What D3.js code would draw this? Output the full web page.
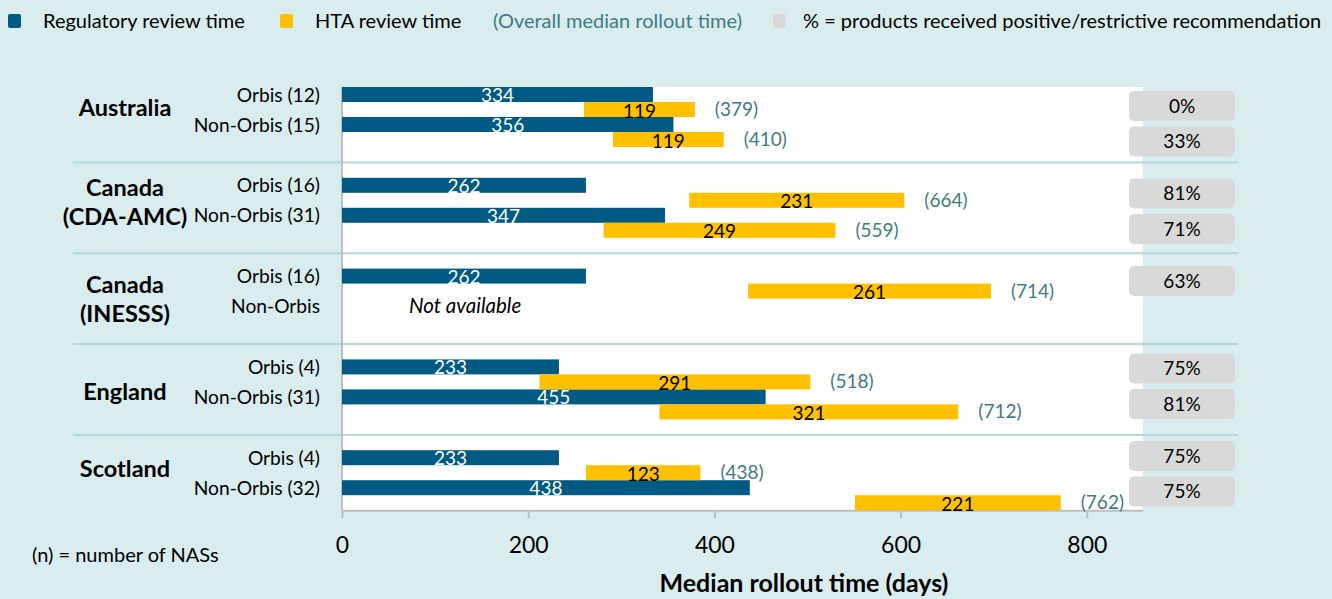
<!DOCTYPE html>
<meta charset="utf-8">

<!-- Load d3.js -->
<script src="https://cdn.jsdelivr.net/npm/d3@7"></script>

<style>
  body { margin: 0; background: #d9ecee; }
  svg text { font-family: Lato, "Open Sans", sans-serif; }
</style>

<!-- Create a div where the graph will take place -->
<div id="my_dataviz"></div>

<script>
// ---- data ----
var countries = ["Australia", "Canada (CDA-AMC)", "Canada (INESSS)", "England", "Scotland"];
var countryLines = [["Australia"], ["Canada", "(CDA-AMC)"], ["Canada", "(INESSS)"], ["England"], ["Scotland"]];
var cohortLabels = [["Orbis (12)", "Non-Orbis (15)"], ["Orbis (16)", "Non-Orbis (31)"], ["Orbis (16)", "Non-Orbis"],
                    ["Orbis (4)", "Non-Orbis (31)"], ["Orbis (4)", "Non-Orbis (32)"]];
// [orbis, non-orbis]; null = not available
var regulatoryDays = [[334, 356], [262, 347], [262, null], [233, 455], [233, 438]];
var htaDays        = [[119, 119], [231, 249], [261, null], [291, 321], [123, 221]];
var htaStartDays   = [[260, 291], [373, 281], [436, null], [212, 341], [262, 551]];
var overallDays    = [[379, 410], [664, 559], [714, null], [518, 712], [438, 762]];
var positivePct    = [[0, 33], [81, 71], [63, null], [75, 81], [75, 75]];
var xTicks = [0, 200, 400, 600, 800];

// small nudges for the country names (hand placed in the original)
var labelShift = [-4, 0, 6, 8, -6];

var width = 1332, height = 599;
var blue = "#015a84", gold = "#ffc000", teal = "#3f7b83", grey = "#d9d9d9", sepColor = "#b5d8dd";

var svg = d3.select("#my_dataviz")
  .append("svg")
    .attr("width", width)
    .attr("height", height);

svg.append("rect").attr("width", width).attr("height", height).attr("fill", "#d9ecee");

// scales
var x = d3.scaleLinear().domain([0, 860]).range([342, 1142.7]);
var yGroup = d3.scaleBand().domain(countries).range([87, 541]);
var yRow = d3.scaleBand().domain(["orbisReg", "orbisHta", "nonReg", "nonHta"]).range([0, 60]);
var yBox = d3.scaleBand().domain(countries).range([91, 528.5]);
var bh = yRow.bandwidth();
var plotBottom = yGroup("Scotland") + 60;

// flatten rows
var rows = [];
countries.forEach(function(c, i) {
  for (var j = 0; j < 2; j++) {
    rows.push({
      country: c, i: i, j: j,
      label: cohortLabels[i][j],
      reg: regulatoryDays[i][j],
      hta: htaDays[i][j],
      start: htaStartDays[i][j],
      overall: overallDays[i][j],
      pct: positivePct[i][j]
    });
  }
});
function regY(d) { return yGroup(d.country) + yRow(d.j === 0 ? "orbisReg" : "nonReg"); }
function htaY(d) { return yGroup(d.country) + yRow(d.j === 0 ? "orbisHta" : "nonHta"); }

// white plot area
svg.append("rect")
  .attr("x", x(0)).attr("y", 87)
  .attr("width", x(860) - x(0)).attr("height", plotBottom - 87)
  .attr("fill", "#fff");

// group separators
svg.selectAll("sep")
  .data(countries.slice(0, 4))
  .enter()
  .append("line")
    .attr("x1", 73).attr("x2", 1238)
    .attr("y1", function(c) { return yGroup(c) + 75.5; })
    .attr("y2", function(c) { return yGroup(c) + 75.5; })
    .attr("stroke", sepColor)
    .attr("stroke-width", 2);

// left axis line
svg.append("line")
  .attr("x1", x(0)).attr("x2", x(0))
  .attr("y1", 87).attr("y2", plotBottom)
  .attr("stroke", "#bfbfbf").attr("stroke-width", 2);

// X axis
var xAxis = svg.append("g")
  .attr("transform", "translate(0," + plotBottom + ")")
  .call(d3.axisBottom(x).tickValues(xTicks).tickSize(8).tickSizeOuter(0).tickPadding(18));
xAxis.select(".domain").attr("stroke", "#bfbfbf").attr("stroke-width", 2);
xAxis.selectAll(".tick line").attr("stroke", "#bfbfbf").attr("stroke-width", 2);
xAxis.selectAll(".tick text")
  .attr("fill", "#000")
  .style("font-size", "23px")
  .style("font-family", "Lato, 'Open Sans', sans-serif");

// regulatory bars
var regRows = rows.filter(function(d) { return d.reg !== null; });
svg.selectAll("regbar")
  .data(regRows)
  .enter()
  .append("rect")
    .attr("x", x(0))
    .attr("y", regY)
    .attr("width", function(d) { return x(d.reg) - x(0); })
    .attr("height", bh)
    .attr("fill", blue);

// HTA bars
var htaRows = rows.filter(function(d) { return d.hta !== null; });
svg.selectAll("htabar")
  .data(htaRows)
  .enter()
  .append("rect")
    .attr("x", function(d) { return x(d.start); })
    .attr("y", htaY)
    .attr("width", function(d) { return x(d.start + d.hta) - x(d.start); })
    .attr("height", bh)
    .attr("fill", gold);

// values inside bars
svg.selectAll("reglab")
  .data(regRows)
  .enter()
  .append("text")
    .attr("x", function(d) { return (x(0) + x(d.reg)) / 2; })
    .attr("y", function(d) { return regY(d) + bh; })
    .attr("text-anchor", "middle")
    .attr("fill", "#fff")
    .style("font-size", "19px")
    .text(function(d) { return d.reg; });

svg.selectAll("htalab")
  .data(htaRows)
  .enter()
  .append("text")
    .attr("x", function(d) { return (x(d.start) + x(d.start + d.hta)) / 2; })
    .attr("y", function(d) { return htaY(d) + bh + 0.5; })
    .attr("text-anchor", "middle")
    .attr("fill", "#000")
    .style("font-size", "19px")
    .text(function(d) { return d.hta; });

// overall median rollout labels
svg.selectAll("overall")
  .data(htaRows)
  .enter()
  .append("text")
    .attr("x", function(d) { return x(d.start + d.hta) + 20; })
    .attr("y", function(d) { return htaY(d) + bh / 2 + 6.5; })
    .attr("fill", teal)
    .style("font-size", "19px")
    .text(function(d) { return "(" + d.overall + ")"; });

// not available
rows.filter(function(d) { return d.reg === null; }).forEach(function(d) {
  svg.append("text")
    .attr("x", x(0) + 67)
    .attr("y", regY(d) + bh / 2 + 7)
    .style("font-size", "20.5px")
    .style("font-style", "italic")
    .text("Not available");
});

// cohort labels
svg.selectAll("cohort")
  .data(rows)
  .enter()
  .append("text")
    .attr("x", 320)
    .attr("y", function(d) { return regY(d) + bh / 2 + 7; })
    .attr("text-anchor", "end")
    .style("font-size", "19.2px")
    .text(function(d) { return d.label; });

// country labels
countries.forEach(function(c, i) {
  var lines = countryLines[i];
  var mid = yGroup(c) + 24 + labelShift[i];
  var t = svg.append("text")
    .attr("text-anchor", "middle")
    .style("font-size", "23.5px")
    .style("font-weight", "bold");
  lines.forEach(function(s, k) {
    t.append("tspan")
      .attr("x", 125)
      .attr("y", mid + 8.5 + (k - (lines.length - 1) / 2) * 29)
      .text(s);
  });
});

// percent boxes
var pctRows = rows.filter(function(d) { return d.pct !== null; });
function boxY(d) { return yBox(d.country) + d.j * 35.5; }
svg.selectAll("pctbox")
  .data(pctRows)
  .enter()
  .append("rect")
    .attr("x", 1129).attr("y", boxY)
    .attr("width", 106).attr("height", 30)
    .attr("rx", 5)
    .attr("fill", grey);
svg.selectAll("pcttxt")
  .data(pctRows)
  .enter()
  .append("text")
    .attr("x", 1182)
    .attr("y", function(d) { return boxY(d) + 15 + 6.5; })
    .attr("text-anchor", "middle")
    .style("font-size", "19px")
    .text(function(d) { return d.pct + "%"; });

// legend
var legend = [
  {sw: blue, sx: 8, tx: 43, text: "Regulatory review time", color: "#000"},
  {sw: gold, sx: 280, tx: 315, text: "HTA review time", color: "#000"},
  {sw: null, sx: 0, tx: 493, text: "(Overall median rollout time)", color: teal},
  {sw: grey, sx: 773, tx: 803, text: "% = products received positive/restrictive recommendation", color: "#000"}
];
legend.forEach(function(l) {
  if (l.sw) {
    svg.append("rect").attr("x", l.sx).attr("y", 14).attr("width", 13).attr("height", 14)
      .attr("rx", 2).attr("fill", l.sw);
  }
  svg.append("text").attr("x", l.tx).attr("y", 28)
    .attr("fill", l.color)
    .style("font-size", "20px")
    .text(l.text);
});

// footnote and axis title
svg.append("text").attr("x", 32).attr("y", 562).style("font-size", "20px").text("(n) = number of NASs");
svg.append("text").attr("x", 804).attr("y", 592)
  .attr("text-anchor", "middle")
  .style("font-size", "25px")
  .style("font-weight", "bold")
  .text("Median rollout time (days)");
</script>
